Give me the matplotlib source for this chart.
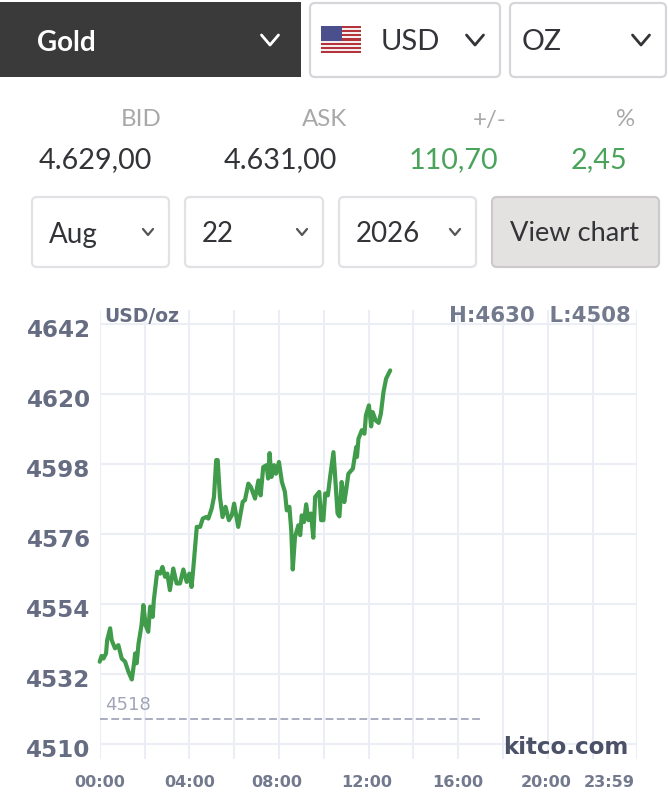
import matplotlib
matplotlib.use('Agg')
import matplotlib.pyplot as plt
from matplotlib.patches import FancyBboxPatch, Rectangle
from matplotlib.transforms import ScaledTranslation

# price trace, minutes since midnight and USD/oz
minutes = [0, 5, 10, 17, 20, 28, 32, 41, 50, 59, 68, 77, 86, 92, 95, 99, 104, 112, 117, 123,
           130, 135, 142, 145, 154, 162, 168, 175, 181, 188, 197, 206, 215, 224, 233, 240,
           246, 251, 260, 269, 276, 285, 291, 300, 306, 312, 316, 322, 329, 337, 346, 354,
           360, 371, 383, 389, 398, 405, 416, 425, 431, 438, 447, 451, 455, 460, 467, 472,
           480, 488, 496, 501, 508, 513, 517, 523, 532, 537, 541, 547, 553, 559, 566, 572,
           577, 588, 593, 599, 604, 611, 617, 626, 630, 637, 642, 648, 655, 660, 666, 678,
           687, 689, 693, 702, 709, 713, 721, 727, 731, 739, 747, 753, 760, 767, 778]
prices = [4535.9, 4537.7, 4536.9, 4538.5, 4542.7, 4546.4, 4542.7, 4540.1, 4541.1, 4536.9,
          4535.9, 4532.7, 4530.3, 4535.4, 4538.5, 4535.4, 4541.6, 4547.4, 4553.7, 4547.4,
          4545.3, 4553.2, 4550.0, 4555.3, 4564.2, 4563.6, 4565.7, 4562.6, 4563.6, 4558.4,
          4565.2, 4560.5, 4560.5, 4564.9, 4561.0, 4563.6, 4559.4, 4565.7, 4578.3, 4578.3,
          4580.9, 4581.4, 4580.9, 4584.1, 4587.7, 4599.3, 4599.3, 4587.7, 4581.4, 4584.6,
          4580.4, 4582.0, 4585.6, 4578.3, 4586.2, 4586.7, 4591.9, 4590.8, 4587.2, 4592.9,
          4588.2, 4597.1, 4597.7, 4593.5, 4601.5, 4594.0, 4597.7, 4595.0, 4598.7, 4592.4,
          4589.3, 4583.5, 4584.6, 4577.2, 4564.9, 4575.1, 4578.8, 4575.7, 4581.9, 4579.8,
          4585.4, 4580.4, 4582.5, 4574.9, 4587.7, 4589.3, 4580.4, 4580.4, 4588.8, 4588.2,
          4594.0, 4601.8, 4595.0, 4582.5, 4581.6, 4592.4, 4586.1, 4589.8, 4595.0, 4596.6,
          4603.4, 4600.3, 4606.0, 4608.7, 4607.6, 4613.4, 4616.5, 4609.9, 4614.4, 4611.8,
          4611.0, 4613.9, 4620.7, 4624.9, 4627.5]
y_ticks = [4510, 4532, 4554, 4576, 4598, 4620, 4642]
x_labels = ['00:00', '04:00', '08:00', '12:00', '16:00', '20:00', '23:59']
x_label_pos = [0, 240, 475, 715, 960, 1195, 1365]
prev_close = 4518
prev_close_end = 1023

headers = ['BID', 'ASK', '+/-', '%']
quotes = ['4.629,00', '4.631,00', '110,70', '2,45']

W, H = 668, 806
DARK = '#333438'
GREEN = '#4aa35a'
SLATE = '#666d83'

fig = plt.figure(figsize=(W / 100, H / 100), dpi=100, facecolor='white')

# page layer in pixel coordinates for the selectors above the chart
page = fig.add_axes([0, 0, 1, 1])
page.set_xlim(0, W)
page.set_ylim(H, 0)
page.axis('off')


def box(x0, y0, x1, y1, fc='white', ec='#d6d6da'):
    page.add_patch(FancyBboxPatch((x0 + 4, y0 + 4), x1 - x0 - 8, y1 - y0 - 8,
                                  boxstyle='round,pad=4,rounding_size=5',
                                  fc=fc, ec=ec, lw=1.6))


def chevron(x, y, w, h, color=DARK, lw=2.0):
    page.plot([x - w / 2, x, x + w / 2], [y - h / 2, y + h / 2, y - h / 2],
              color=color, lw=lw, solid_capstyle='round', solid_joinstyle='round')


page.add_patch(Rectangle((0, 2), 301, 75, fc='#3a3a3a', ec='none'))
page.text(37, 43, 'Gold', color='white', fontsize=20, fontweight='bold',
          family='Lato', va='center')
chevron(270, 40, 17, 10, color='white')

box(310, 3, 500, 77)
box(510, 3, 666, 77)
page.text(381, 42, 'USD', color=DARK, fontsize=21, family='Lato', va='center')
page.text(522, 42, 'OZ', color=DARK, fontsize=20.5, family='Lato', va='center')
chevron(475, 40, 17, 10)
chevron(641, 40, 17, 10)

# flag
for i in range(13):
    page.add_patch(Rectangle((321, 26 + i * 27 / 13), 40, 27 / 13,
                             fc='#b5343c' if i % 2 == 0 else '#f4eeee', ec='none'))
page.add_patch(Rectangle((321, 26), 21, 14.5, fc='#4b4f8c', ec='none'))

for text, right in zip(headers, [161.5, 347, 507, 635.5]):
    page.text(right, 120, text, color='#a8a8a8', fontsize=17.3, family='Lato',
              ha='right', va='center')
for text, right, color in zip(quotes, [152.5, 337.5, 498.5, 627.5], [DARK, DARK, GREEN, GREEN]):
    page.text(right, 160.5, text, color=color, fontsize=20.7, family='Lato',
              ha='right', va='center')

for x0, x1, text in [(32, 169, 'Aug'), (185, 323, '22'), (339, 476, '2026')]:
    box(x0, 197, x1, 267, ec='#e2e2e6')
    page.text(x0 + 17, 234.5, text, color=DARK, fontsize=20, family='Lato', va='center')
    chevron(x1 - 21, 232, 10, 6, color='#555555', lw=1.6)
box(492, 197, 659, 267, fc='#e4e1e1', ec='#cbc9c9')
page.text(575, 233.5, 'View chart', color=DARK, fontsize=19.6, family='Lato',
          ha='center', va='center')

# chart
left, right, top, bottom = 99.7, 637.4, 310, 759
ax = fig.add_axes([left / W, 1 - bottom / H, (right - left) / W, (bottom - top) / H])
ax.patch.set_alpha(0)
ax.set_xlim(0, 1440)
ax.set_ylim(4505.3, 4646.5)
for side in ax.spines.values():
    side.set_visible(False)
ax.set_xticks(range(0, 1441, 120))
ax.set_xticklabels([])
ax.set_yticks(y_ticks)
ax.set_yticklabels([str(v) for v in y_ticks], fontsize=16.6, fontweight='bold', color=SLATE)
ax.tick_params(length=0, pad=6.5)
# the labels sit a little under their grid lines
nudge = ScaledTranslation(0, -2.6 / 72, fig.dpi_scale_trans)
for label in ax.get_yticklabels():
    label.set_transform(label.get_transform() + nudge)
ax.grid(True, color='#eceef5', lw=1.5)
ax.set_axisbelow(True)

ax.plot(minutes, prices, color='#409c4b', lw=3.0, solid_joinstyle='round',
        solid_capstyle='round', clip_on=False)
ax.plot([0, prev_close_end], [prev_close, prev_close], color='#a9adc0', lw=1.4,
        dashes=(4, 1.8))
ax.annotate(str(prev_close), (0, prev_close), xytext=(4, 10), textcoords='offset points',
            fontsize=13, color='#a0a6b8', va='center')

trans = ax.get_xaxis_transform()
for pos, text in zip(x_label_pos, x_labels):
    ax.text(pos, -0.0515, text, transform=trans, ha='center', va='center',
            fontsize=11.6, fontweight='bold', color='#737a8e')

ax.text(0.008, 0.986, 'USD/oz', transform=ax.transAxes, fontsize=13.5, fontweight='bold',
        color=SLATE, va='center')
ax.text(0.988, 0.986, 'H:4630  L:4508', transform=ax.transAxes, fontsize=15.3,
        fontweight='bold', color='#737a8e', ha='right', va='center')
ax.text(0.983, 0.0245, 'kitco.com', transform=ax.transAxes, fontsize=16.6,
        fontweight='bold', color='#4b5268', ha='right', va='center')

fig.savefig('out.png', dpi=100)
